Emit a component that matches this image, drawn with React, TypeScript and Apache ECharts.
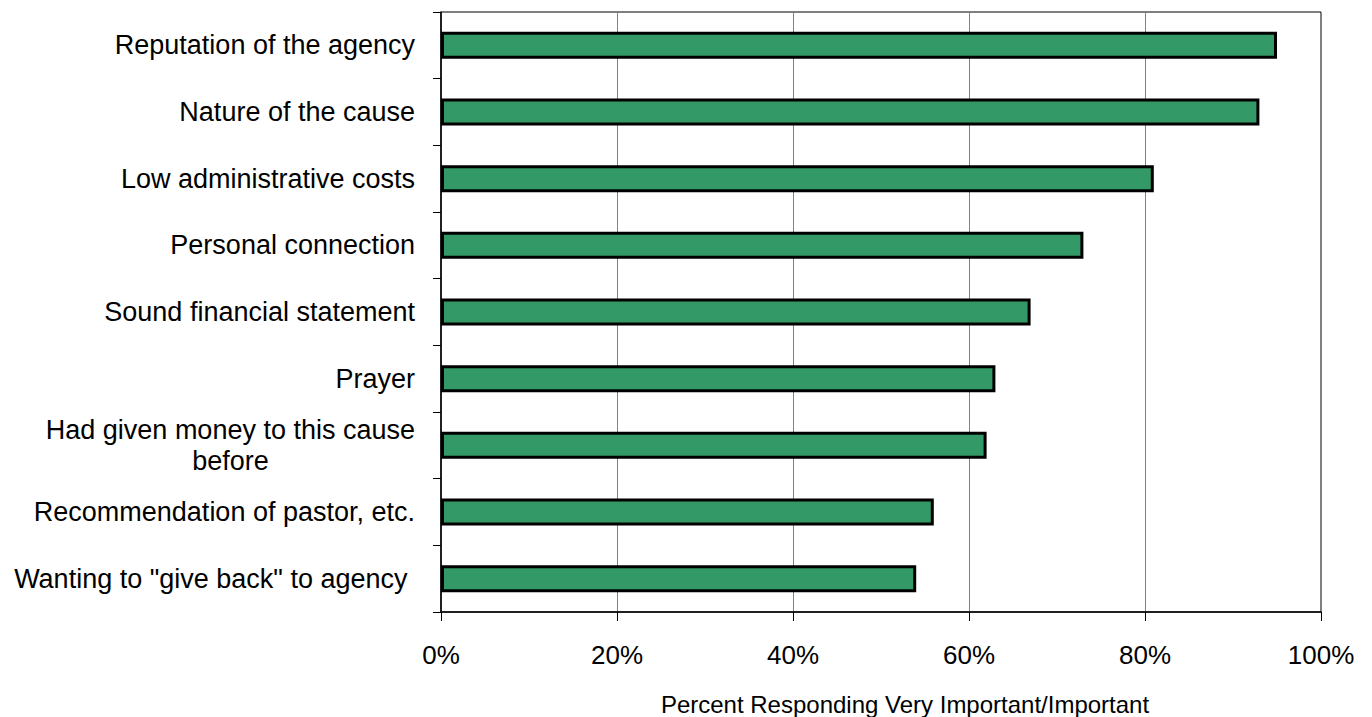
import { useEffect, useRef } from 'react';
import * as echarts from 'echarts';

// Reasons given for choosing an agency, listed top to bottom
const categories = [
  'Reputation of the agency',
  'Nature of the cause',
  'Low administrative costs',
  'Personal connection',
  'Sound financial statement',
  'Prayer',
  'Had given money to this cause\nbefore',
  'Recommendation of pastor, etc.',
  'Wanting to "give back" to agency ',
];

// Percent responding "very important" or "important"
const percentValues = [95, 93, 81, 73, 67, 63, 62, 56, 54];

// Value axis range and step, in percent
const axisMin = 0;
const axisMax = 100;
const axisStep = 20;

const axisTitle = 'Percent Responding Very Important/Important';

const FONT = '"Liberation Sans", Arial, Helvetica, sans-serif';

export default function App() {
  const ref = useRef<HTMLDivElement>(null);

  useEffect(() => {
    if (!ref.current) return;
    const chart = echarts.init(ref.current, undefined, { renderer: 'svg' });

    chart.setOption({
      animation: false,
      backgroundColor: '#ffffff',
      textStyle: { fontFamily: FONT },
      grid: {
        left: 441,
        right: 51,
        top: 12,
        bottom: 105,
        show: true,
        borderColor: '#000',
        borderWidth: 1,
        backgroundColor: 'transparent',
      },
      xAxis: {
        type: 'value',
        min: axisMin,
        max: axisMax,
        interval: axisStep,
        axisLine: { show: true, lineStyle: { color: '#000', width: 1.5 } },
        axisTick: { show: true, inside: false, length: 9, lineStyle: { color: '#000', width: 1 } },
        splitLine: { show: true, lineStyle: { color: '#808080', width: 1 } },
        axisLabel: {
          margin: 30,
          fontSize: 26,
          color: '#000',
          fontFamily: FONT,
          formatter: '{value}%',
        },
      },
      yAxis: {
        type: 'category',
        inverse: true,
        data: categories,
        axisLine: { show: true, lineStyle: { color: '#000', width: 1.5 } },
        axisTick: { show: true, inside: false, length: 8, alignWithLabel: false, lineStyle: { color: '#000', width: 1 } },
        splitLine: { show: false },
        axisLabel: {
          margin: 26,
          color: '#000',
          fontFamily: FONT,
          fontSize: 27,
          formatter: (value: string) =>
            value
              .split('\n')
              .map((line) => `{c|${line.replace(/ $/, '\u00a0')}}`)
              .join('\n'),
          rich: {
            c: {
              align: 'center',
              fontSize: 27,
              lineHeight: 31,
              color: '#000',
              fontFamily: FONT,
            },
          },
        },
      },
      graphic: [
        {
          type: 'text',
          x: 905,
          y: 704,
          style: {
            text: axisTitle,
            fontSize: 24,
            fontFamily: FONT,
            fill: '#000',
            align: 'center',
            verticalAlign: 'middle',
          },
        },
      ],
      series: [
        {
          type: 'bar',
          data: percentValues,
          barWidth: 27,
          itemStyle: {
            color: '#339966',
            borderColor: '#000',
            borderWidth: 3,
          },
          emphasis: { disabled: true },
        },
      ],
    });

    return () => {
      chart.dispose();
    };
  }, []);

  return (
    <div
      ref={ref}
      style={{ position: 'absolute', left: 0, top: 0, width: 1372, height: 717 }}
    />
  );
}
